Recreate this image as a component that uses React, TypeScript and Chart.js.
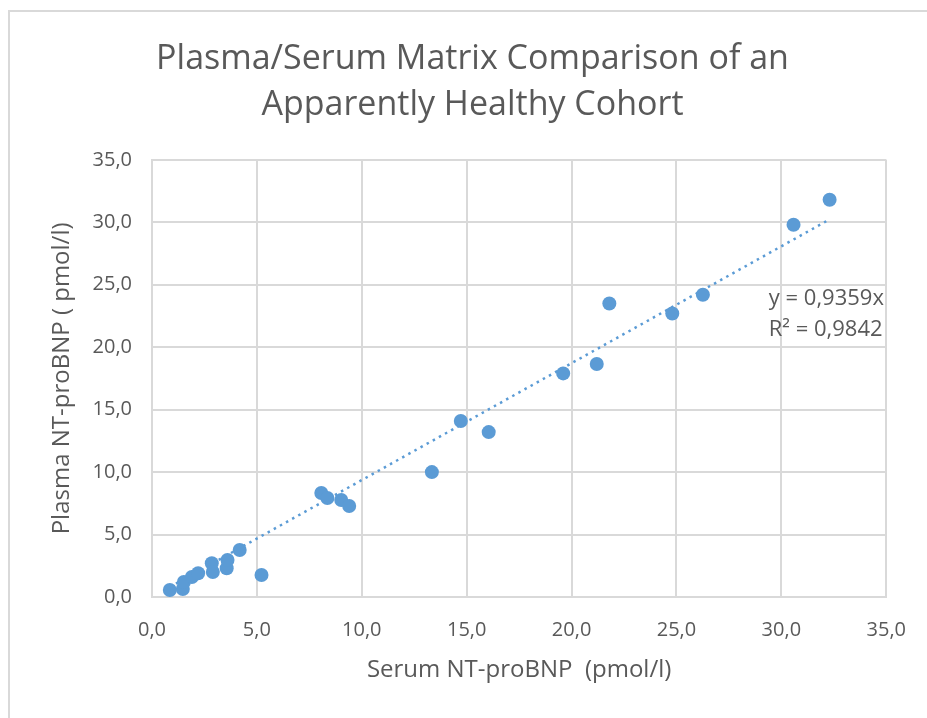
import React, { useEffect, useRef } from 'react';
import { Chart, registerables } from 'chart.js';

Chart.register(...registerables);

const chartTitle = ['Plasma/Serum Matrix Comparison of an', 'Apparently Healthy Cohort'];
const xAxisTitle = 'Serum NT-proBNP  (pmol/l)';
const yAxisTitle = 'Plasma NT-proBNP ( pmol/l)';

const serumValues = [0.85, 1.47, 1.52, 1.9, 2.2, 2.85, 2.9, 3.56, 3.6, 4.18, 5.22, 8.07, 8.36, 9.02, 9.4, 13.34, 14.72, 16.05, 19.6, 21.2, 21.8, 24.8, 26.26, 30.58, 32.3];
const plasmaValues = [0.56, 0.64, 1.2, 1.6, 1.9, 2.7, 2.0, 2.3, 2.96, 3.76, 1.76, 8.33, 7.93, 7.77, 7.29, 10.0, 14.09, 13.2, 17.9, 18.65, 23.5, 22.7, 24.2, 29.8, 31.8];

const trendSlope = 0.9359;
const trendR2 = 0.9842;
const equationLines = ['y = 0,9359x', 'R² = 0,9842'];
const equationAnchor = { x: 29.4, y: 23.9, y2: 21.4 };

const axisMin = 0;
const axisMax = 35;
const axisStep = 5;

const fmt = (v: number) => v.toFixed(1).replace('.', ',');

export default function App() {
  const canvasRef = useRef<HTMLCanvasElement | null>(null);

  useEffect(() => {
    const canvas = canvasRef.current;
    if (!canvas) return;

    const points = serumValues.map((x, i) => ({ x, y: plasmaValues[i] }));
    const xMinData = Math.min(...serumValues);
    const xMaxData = Math.max(...serumValues);
    const trend = [
      { x: xMinData, y: trendSlope * xMinData },
      { x: xMaxData, y: trendSlope * xMaxData },
    ];

    const textColor = '#595959';
    const gridColor = '#D9D9D9';
    const blue = '#5B9BD5';
    const family = '"Open Sans", "Noto Sans", sans-serif';

    const equationPlugin = {
      id: 'equationLabel',
      afterDatasetsDraw(chart: any) {
        const { ctx, scales } = chart;
        const px = scales.x.getPixelForValue(equationAnchor.x);
        const py1 = scales.y.getPixelForValue(equationAnchor.y);
        const py2 = scales.y.getPixelForValue(equationAnchor.y2);
        ctx.save();
        ctx.font = `22px ${family}`;
        ctx.fillStyle = textColor;
        ctx.textAlign = 'left';
        ctx.textBaseline = 'middle';
        ctx.fillText(equationLines[0], px, py1);
        ctx.fillText(equationLines[1], px, py2);
        ctx.restore();
      },
    };

    const chart = new Chart(canvas, {
      type: 'scatter',
      data: {
        datasets: [
          {
            label: 'Plasma vs Serum',
            data: points,
            backgroundColor: blue,
            borderColor: blue,
            pointRadius: 7,
            pointBorderWidth: 0,
            order: 1,
          },
          {
            type: 'line',
            label: `Linear (R² = ${trendR2})`,
            data: trend,
            borderColor: blue,
            borderWidth: 2.5,
            borderDash: [2.5, 4.5],
            pointRadius: 0,
            fill: false,
            order: 2,
          } as any,
        ],
      },
      options: {
        responsive: false,
        animation: false,
        layout: { padding: { left: 50, right: 32, top: 0, bottom: 0 } },
        plugins: {
          legend: { display: false },
          tooltip: { enabled: false },
          title: {
            display: true,
            text: chartTitle,
            color: textColor,
            font: { family, size: 34, weight: 'normal', lineHeight: 1.35 },
            padding: { top: 36, bottom: 32 },
          },
        },
        scales: {
          x: {
            type: 'linear',
            min: axisMin,
            max: axisMax,
            ticks: {
              stepSize: axisStep,
              color: textColor,
              font: { family, size: 20 },
              padding: 21,
              callback: (v: any) => fmt(Number(v)),
            },
            grid: { color: gridColor, lineWidth: 2, drawTicks: false },
            border: { color: gridColor, width: 2 },
            title: {
              display: true,
              text: xAxisTitle,
              color: textColor,
              font: { family, size: 24, lineHeight: 1.2 },
              padding: { top: 0, bottom: 33 },
            },
            afterFit: (scale: any) => {
              scale.height = 121;
            },
          },
          y: {
            type: 'linear',
            min: axisMin,
            max: axisMax,
            ticks: {
              stepSize: axisStep,
              color: textColor,
              font: { family, size: 20 },
              padding: 20,
              callback: (v: any) => fmt(Number(v)),
            },
            grid: { color: gridColor, lineWidth: 2, drawTicks: false },
            border: { color: gridColor, width: 2 },
            title: {
              display: true,
              text: yAxisTitle,
              color: textColor,
              font: { family, size: 24, lineHeight: 1.0 },
              padding: { top: 0, bottom: 0 },
            },
            afterFit: (scale: any) => {
              scale.width = 102;
            },
          },
        },
      } as any,
      plugins: [equationPlugin],
    });

    return () => chart.destroy();
  }, []);

  return (
    <div style={{ position: 'fixed', left: 0, top: 0, width: 927, height: 718, background: '#fff' }}>
      <div
        style={{
          position: 'absolute',
          left: 8,
          top: 10,
          width: 940,
          height: 720,
          borderTop: '2px solid #D9D9D9',
          borderLeft: '2px solid #D9D9D9',
        }}
      />
      <canvas ref={canvasRef} width={927} height={718} style={{ position: 'absolute', left: 0, top: 0 }} />
    </div>
  );
}
